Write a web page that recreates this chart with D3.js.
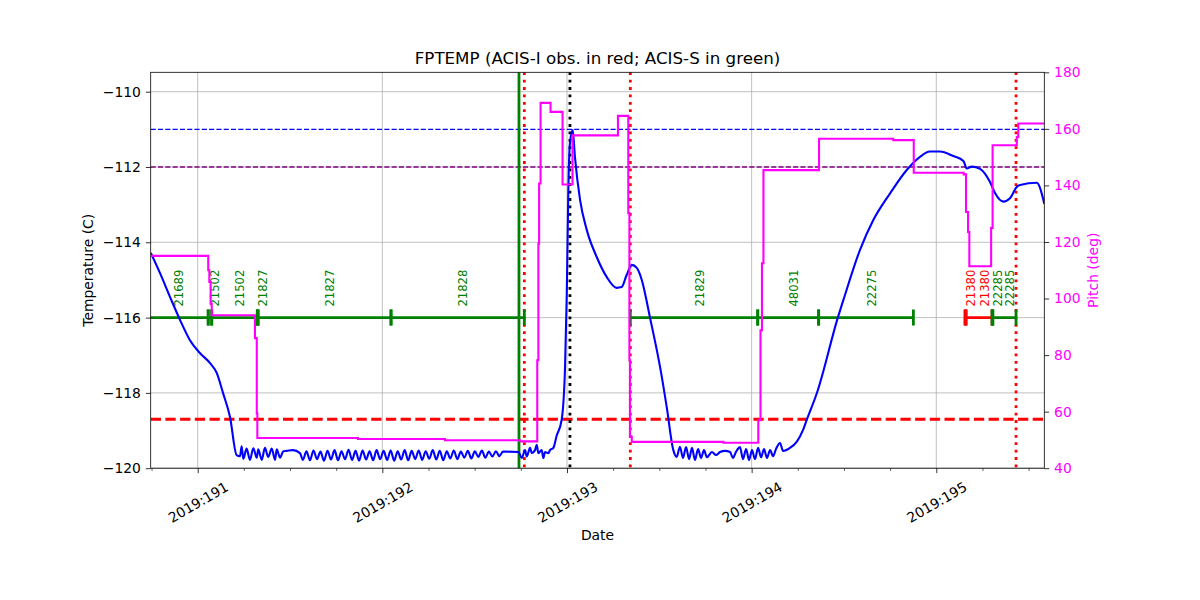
<!DOCTYPE html>
<html><head><meta charset="utf-8">
<script src="https://cdn.jsdelivr.net/npm/d3@7"></script>
<style>body{margin:0;background:#fff} text{font-family:"DejaVu Sans",sans-serif}</style>
</head><body><svg id="c" width="1200" height="600"></svg>
<script>
// ---------------- DATA ----------------
const titleText = "FPTEMP (ACIS-I obs. in red; ACIS-S in green)";
const dayTicks = [191, 192, 193, 194, 195];
const dayTickLabels = ["2019:191", "2019:192", "2019:193", "2019:194", "2019:195"];
const tempTicks = [-120, -118, -116, -114, -112, -110];
const pitchTicks = [40, 60, 80, 100, 120, 140, 160, 180];
const dayDomain = [190.7455, 195.585];
const tempDomain = [-120, -109.485];
const pitchDomain = [40, 180];

// FPTEMP (day-of-year, deg C)
const fptemp = [
 [190.746,-114.28],[190.796,-114.82],[190.850,-115.45],[190.904,-116.06],[190.958,-116.60],[191.012,-116.94],
 [191.067,-117.21],[191.103,-117.47],[191.137,-118.00],[191.175,-118.64],[191.211,-119.65],[191.229,-119.68],
 [191.238,-119.42],[191.247,-119.75],[191.265,-119.48],[191.283,-119.78],[191.301,-119.47],[191.320,-119.72],
 [191.328,-119.50],[191.347,-119.78],[191.364,-119.46],[191.382,-119.70],[191.401,-119.48],[191.419,-119.78],
 [191.428,-119.50],[191.446,-119.72],[191.464,-119.55],[191.482,-119.54],[191.516,-119.52],[191.554,-119.60],
 [191.570,-119.78],[191.589,-119.55],[191.608,-119.79],[191.627,-119.53],[191.646,-119.76],[191.665,-119.56],
 [191.684,-119.80],[191.703,-119.54],[191.722,-119.77],[191.741,-119.52],[191.760,-119.79],[191.779,-119.55],
 [191.798,-119.76],[191.817,-119.51],[191.836,-119.78],[191.855,-119.54],[191.874,-119.80],[191.893,-119.53],
 [191.912,-119.77],[191.931,-119.55],[191.950,-119.79],[191.969,-119.52],[191.988,-119.76],[192.007,-119.54],
 [192.026,-119.78],[192.045,-119.53],[192.064,-119.80],[192.083,-119.55],[192.102,-119.77],[192.121,-119.52],
 [192.140,-119.79],[192.159,-119.54],[192.178,-119.76],[192.197,-119.53],[192.216,-119.78],[192.235,-119.55],
 [192.254,-119.75],[192.273,-119.52],[192.292,-119.77],[192.311,-119.54],[192.330,-119.79],[192.349,-119.55],
 [192.368,-119.74],[192.387,-119.53],[192.406,-119.76],[192.425,-119.56],[192.444,-119.72],[192.463,-119.54],
 [192.482,-119.74],[192.501,-119.55],[192.520,-119.70],[192.539,-119.53],[192.558,-119.72],[192.577,-119.56],
 [192.596,-119.69],[192.615,-119.55],[192.634,-119.68],[192.653,-119.56],[192.664,-119.56],[192.738,-119.57],
 [192.755,-119.73],[192.773,-119.52],[192.782,-119.69],[192.800,-119.46],[192.809,-119.60],[192.827,-119.52],
 [192.836,-119.38],[192.845,-119.60],[192.863,-119.52],[192.872,-119.73],[192.881,-119.57],[192.899,-119.60],
 [192.908,-119.52],[192.926,-119.46],[192.944,-119.14],[192.971,-118.72],[192.989,-117.39],[192.999,-115.35],
 [193.007,-112.69],[193.016,-111.36],[193.031,-111.02],[193.043,-111.73],[193.071,-112.88],[193.107,-113.67],
 [193.161,-114.39],[193.215,-114.92],[193.269,-115.21],[193.296,-115.19],[193.323,-114.87],[193.351,-114.60],
 [193.378,-114.68],[193.405,-115.00],[193.450,-116.01],[193.504,-117.31],[193.540,-118.37],[193.576,-119.52],
 [193.594,-119.70],[193.612,-119.43],[193.628,-119.73],[193.645,-119.44],[193.661,-119.76],[193.677,-119.46],
 [193.693,-119.78],[193.710,-119.49],[193.726,-119.73],[193.742,-119.52],[193.758,-119.71],[193.785,-119.57],
 [193.807,-119.65],[193.829,-119.57],[193.856,-119.54],[193.883,-119.57],[193.899,-119.73],[193.915,-119.57],
 [193.937,-119.44],[193.953,-119.76],[193.970,-119.49],[193.986,-119.78],[194.002,-119.52],[194.018,-119.76],
 [194.035,-119.46],[194.051,-119.71],[194.067,-119.49],[194.083,-119.73],[194.100,-119.52],[194.116,-119.68],
 [194.132,-119.49],[194.154,-119.33],[194.170,-119.54],[194.208,-119.46],[194.244,-119.30],[194.278,-118.99],
 [194.298,-118.72],[194.353,-118.01],[194.468,-115.98],[194.497,-115.53],[194.587,-114.20],[194.659,-113.41],
 [194.750,-112.70],[194.840,-112.08],[194.912,-111.73],[194.966,-111.59],[195.020,-111.59],[195.092,-111.71],
 [195.147,-111.84],[195.165,-112.04],[195.192,-111.99],[195.237,-112.05],[195.291,-112.40],[195.318,-112.69],
 [195.363,-112.92],[195.399,-112.83],[195.436,-112.53],[195.454,-112.48],[195.544,-112.42],[195.585,-112.98]
];

// Pitch (day-of-year, deg), step-after
const pitch = [
 [190.746,115.1],[191.057,110.0],[191.063,105.9],[191.070,98.2],[191.076,94.1],[191.310,86.0],[191.320,59.4],
 [191.323,50.7],[191.868,50.3],[192.339,49.9],[192.746,49.5],[192.839,78.2],[192.845,119.4],[192.849,140.7],
 [192.857,169.2],[192.911,166.0],[192.976,140.3],[193.030,157.7],[193.276,164.6],[193.332,130.2],[193.338,78.2],
 [193.341,51.1],[193.351,49.3],[193.847,49.0],[194.036,57.0],[194.048,88.8],[194.056,112.5],[194.064,145.4],
 [194.365,156.5],[194.767,156.0],[194.878,144.5],[195.148,143.9],[195.161,130.6],[195.172,123.5],[195.179,111.4],
 [195.297,125.0],[195.305,154.2],[195.436,157.1],[195.444,161.9],[195.585,161.9]
];

// Observations
const obsids    = ["21689","21502","21502","21827","21827","21828","21829","48031","22275","21380","21380","22285","22285"];
const obsStart  = [190.686,191.057,191.076,191.323,191.327,192.047,193.343,194.033,194.363,195.155,195.161,195.302,195.306];
const obsStop   = [191.057,191.076,191.323,191.327,192.047,192.769,194.033,194.363,194.876,195.161,195.302,195.306,195.432];
const obsInstr  = ["S","S","S","S","S","S","S","S","S","I","I","S","S"];
const obsLevel = -116;

// Limit lines (deg C) and event times (day)
const limitTemps = [-111, -112, -118.7];
const eventTimes = [192.740, 192.769, 193.016, 193.343, 195.432];

// ---------------- DRAW ----------------
const svg = d3.select("#c");
const L = 150.7, R = 1044.3, T = 72.3, B = 468.2;
const x = d3.scaleLinear().domain(dayDomain).range([L, R]);
const yT = d3.scaleLinear().domain(tempDomain).range([B, T]);
const yP = d3.scaleLinear().domain(pitchDomain).range([B, T]);

svg.append("defs").append("clipPath").attr("id","clip")
  .append("rect").attr("x",L).attr("y",T).attr("width",R-L).attr("height",B-T);

// grid
const grid = svg.append("g");
grid.selectAll(".gx").data(dayTicks).join("line")
  .attr("x1",d=>x(d)).attr("x2",d=>x(d)).attr("y1",T).attr("y2",B)
  .attr("stroke","#b0b0b0").attr("stroke-width",0.8);
grid.selectAll(".gy").data(tempTicks).join("line")
  .attr("x1",L).attr("x2",R).attr("y1",d=>yT(d)).attr("y2",d=>yT(d))
  .attr("stroke","#b0b0b0").attr("stroke-width",0.8);

const plot = svg.append("g").attr("clip-path","url(#clip)");

// limit lines
const limitStyle = [
  {c:"blue", w:1.4, d:"5.1,2.2"},
  {c:"purple", w:1.4, d:"5.1,2.2"},
  {c:"red", w:2.8, d:"10.3,4.4"}
];
plot.selectAll(".lim").data(limitTemps).join("line")
  .attr("x1",L).attr("x2",R).attr("y1",d=>yT(d)).attr("y2",d=>yT(d))
  .attr("stroke",(d,i)=>limitStyle[i].c).attr("stroke-width",(d,i)=>limitStyle[i].w)
  .attr("stroke-dasharray",(d,i)=>limitStyle[i].d);

// event lines
const eventStyle = [
  {c:"green", w:2.8, d:null},
  {c:"red", w:2.8, d:"2.8,4.6"},
  {c:"black", w:2.8, d:"2.8,4.6"},
  {c:"red", w:2.8, d:"2.8,4.6"},
  {c:"red", w:2.8, d:"2.8,4.6"}
];
plot.selectAll(".ev").data(eventTimes).join("line")
  .attr("x1",d=>x(d)).attr("x2",d=>x(d)).attr("y1",T).attr("y2",B)
  .attr("stroke",(d,i)=>eventStyle[i].c).attr("stroke-width",(d,i)=>eventStyle[i].w)
  .attr("stroke-dasharray",(d,i)=>eventStyle[i].d);

// observation bars
const obs = obsids.map((id,i)=>({id, s:obsStart[i], e:obsStop[i], c: obsInstr[i]==="I" ? "red" : "green"}));
const og = plot.append("g");
og.selectAll(".bar").data(obs).join("line")
  .attr("x1",d=>x(d.s)).attr("x2",d=>x(d.e)).attr("y1",yT(obsLevel)).attr("y2",yT(obsLevel))
  .attr("stroke",d=>d.c).attr("stroke-width",2.8);
const ends = obs.flatMap(d=>[{t:d.s,c:d.c},{t:d.e,c:d.c}]);
og.selectAll(".tk").data(ends).join("line")
  .attr("x1",d=>x(d.t)).attr("x2",d=>x(d.t)).attr("y1",yT(obsLevel)-8).attr("y2",yT(obsLevel)+8)
  .attr("stroke",d=>d.c).attr("stroke-width",2.8);
og.selectAll(".lbl").data(obs).join("text")
  .attr("transform",d=>`translate(${x((d.s+d.e)/2)+9.5},${yT(obsLevel)-11}) rotate(-90)`)
  .attr("font-size","11.6px").attr("fill",d=>d.c).text(d=>d.id);

// temperature line
plot.append("path").datum(fptemp)
  .attr("d", d3.line().curve(d3.curveMonotoneX).x(d=>x(d[0])).y(d=>yT(d[1])))
  .attr("fill","none").attr("stroke","blue").attr("stroke-width",2.1).attr("stroke-linejoin","round");

// pitch line
plot.append("path").datum(pitch)
  .attr("d", d3.line().curve(d3.curveStepAfter).x(d=>x(d[0])).y(d=>yP(d[1])))
  .attr("fill","none").attr("stroke","#ff00ff").attr("stroke-width",2.1);

// frame
svg.append("rect").attr("x",L).attr("y",T).attr("width",R-L).attr("height",B-T)
  .attr("fill","none").attr("stroke","black").attr("stroke-width",0.8);

// x axis
const xa = svg.append("g").attr("transform",`translate(0,${B})`)
  .call(d3.axisBottom(x).tickValues(dayTicks).tickFormat((d,i)=>dayTickLabels[i]).tickSize(4.9).tickPadding(4.9));
xa.select(".domain").remove();
xa.selectAll("line").attr("stroke","black").attr("stroke-width",0.8);
xa.selectAll("text").attr("font-size","13.9px").attr("fill","black")
  .attr("y",0).attr("dy",null).attr("text-anchor","middle").attr("dominant-baseline","central")
  .attr("transform","translate(0,34) rotate(-30)");
const minor = d3.range(190.75, 195.6, 0.25).filter(d=>!dayTicks.includes(d));
const xm = svg.append("g").attr("transform",`translate(0,${B})`)
  .call(d3.axisBottom(x).tickValues(minor).tickFormat("").tickSize(2.8));
xm.select(".domain").remove();
xm.selectAll("line").attr("stroke","black").attr("stroke-width",0.6);

// left axis
const ya = svg.append("g").attr("transform",`translate(${L},0)`)
  .call(d3.axisLeft(yT).tickValues(tempTicks).tickSize(4.9).tickPadding(4.9));
ya.select(".domain").remove();
ya.selectAll("line").attr("stroke","black").attr("stroke-width",0.8);
ya.selectAll("text").attr("font-size","13.9px").attr("fill","black");

// right axis
const yr = svg.append("g").attr("transform",`translate(${R},0)`)
  .call(d3.axisRight(yP).tickValues(pitchTicks).tickSize(4.9).tickPadding(4.9));
yr.select(".domain").remove();
yr.selectAll("line").attr("stroke","black").attr("stroke-width",0.8);
yr.selectAll("text").attr("font-size","13.9px").attr("fill","#ff00ff");

// labels
svg.append("text").attr("x",(L+R)/2).attr("y",64).attr("text-anchor","middle")
  .attr("font-size","16.7px").text(titleText);
svg.append("text").attr("x",(L+R)/2).attr("y",540).attr("text-anchor","middle")
  .attr("font-size","13.9px").text("Date");
svg.append("text").attr("transform",`translate(88,${(T+B)/2}) rotate(-90)`).attr("dy","0.35em")
  .attr("text-anchor","middle").attr("font-size","13.9px").text("Temperature (C)");
svg.append("text").attr("transform",`translate(1093,${(T+B)/2}) rotate(-90)`).attr("dy","0.35em")
  .attr("text-anchor","middle").attr("font-size","13.9px").attr("fill","#ff00ff").text("Pitch (deg)");
</script></body></html>
